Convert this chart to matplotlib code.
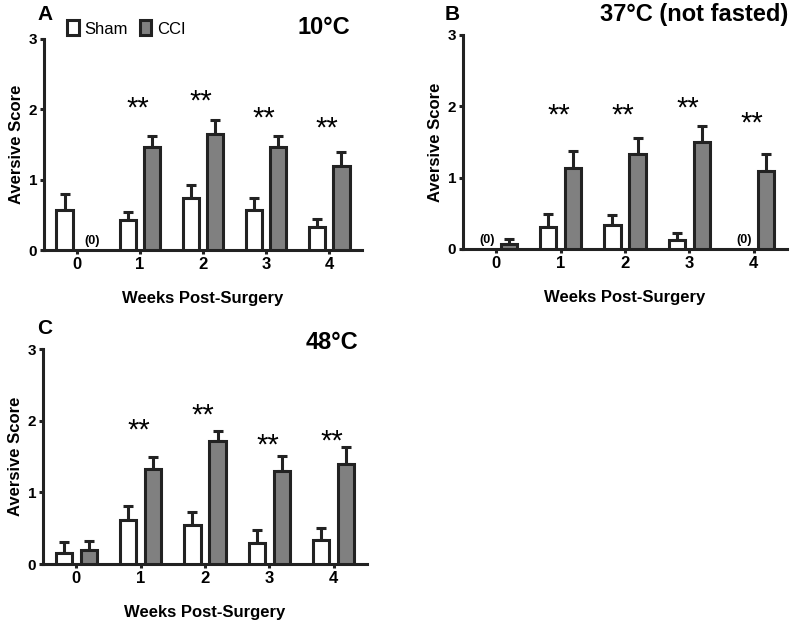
import numpy as np
import matplotlib.pyplot as plt
from matplotlib.patches import Patch

plt.rcParams['font.family'] = ['Liberation Sans', 'DejaVu Sans']

weeks = [0, 1, 2, 3, 4]

# Panel A - 10°C
a_sham = [0.57, 0.43, 0.74, 0.57, 0.33]
a_sham_err = [0.22, 0.11, 0.19, 0.17, 0.11]
a_cci = [0.0, 1.47, 1.65, 1.46, 1.20]
a_cci_err = [0.0, 0.15, 0.20, 0.16, 0.20]
a_stars = [None, 2.09, 2.19, 1.95, 1.81]

# Panel B - 37°C (not fasted)
b_sham = [0.0, 0.31, 0.34, 0.13, 0.0]
b_sham_err = [0.0, 0.18, 0.14, 0.10, 0.0]
b_cci = [0.07, 1.14, 1.33, 1.50, 1.10]
b_cci_err = [0.07, 0.23, 0.22, 0.23, 0.23]
b_stars = [None, 1.95, 1.95, 2.05, 1.84]

# Panel C - 48°C
c_sham = [0.16, 0.62, 0.54, 0.30, 0.34]
c_sham_err = [0.15, 0.19, 0.18, 0.17, 0.16]
c_cci = [0.20, 1.33, 1.71, 1.30, 1.40]
c_cci_err = [0.12, 0.17, 0.14, 0.21, 0.23]
c_stars = [None, 1.94, 2.15, 1.74, 1.79]

EDGE = '#222222'
GREY = '#808080'
off = 0.195
w = 0.255


def panel(rect, sham, sham_err, cci, cci_err, stars, zeros):
    ax = fig.add_axes(rect)
    x = np.array(weeks, dtype=float)
    for xs, vals, errs, col in [(x - off, sham, sham_err, 'white'),
                                (x + off, cci, cci_err, GREY)]:
        for xi, v, e in zip(xs, vals, errs):
            if v <= 0:
                continue
            ax.errorbar(xi, v, yerr=[[0], [e]], fmt='none', ecolor=EDGE,
                        elinewidth=2.2, capsize=3.5, capthick=2.2, zorder=2)
            ax.bar(xi, v, width=w, color=col, edgecolor=EDGE, linewidth=2.2,
                   zorder=3)
    # significance marks, centred on the glyphs
    for xi, s in zip(x, stars):
        if s is not None:
            ax.annotate('**', (xi - 0.03, s), xytext=(0, -10),
                        textcoords='offset points', ha='center',
                        va='baseline', fontsize=21)
    for xi, dx in zeros:
        ax.text(xi + dx, 0.13, '(0)', ha='center', va='center',
                fontsize=9, fontweight='bold')
    ax.set_xlim(-0.52, 4.52)
    ax.set_ylim(0, 3)
    ax.set_xticks(weeks)
    ax.set_yticks([0, 1, 2, 3])
    for s in ['top', 'right']:
        ax.spines[s].set_visible(False)
    for s in ['left', 'bottom']:
        ax.spines[s].set_linewidth(2.2)
        ax.spines[s].set_color(EDGE)
    ax.tick_params(axis='both', length=3, width=2.2, color=EDGE, pad=2,
                   labelsize=11)
    ax.tick_params(axis='x', labelsize=12)
    for lab in ax.get_xticklabels() + ax.get_yticklabels():
        lab.set_fontweight('bold')
    ax.set_xlabel('Weeks Post-Surgery', fontsize=12, fontweight='bold',
                  labelpad=14)
    ax.set_ylabel('Aversive Score', fontsize=12, fontweight='bold',
                  labelpad=3)
    return ax


fig = plt.figure(figsize=(8, 6.24), dpi=100)
W, H = 800, 624


def rect(l, r, t, b):
    return [l / W, 1 - b / H, (r - l) / W, (b - t) / H]


axA = panel(rect(44, 362, 39, 250), a_sham, a_sham_err, a_cci, a_cci_err,
            a_stars, [(0, 0.25)])
axB = panel(rect(463, 787, 35, 249), b_sham, b_sham_err, b_cci, b_cci_err,
            b_stars, [(0, -0.14), (4, -0.14)])
axC = panel(rect(43, 367, 349, 564), c_sham, c_sham_err, c_cci, c_cci_err,
            c_stars, [])

# titles and panel letters
fig.text(350 / W, 1 - 28 / H, '10°C', ha='right', va='center', fontsize=17,
         fontweight='bold')
fig.text(788 / W, 1 - 15 / H, '37°C (not fasted)', ha='right', va='center',
         fontsize=17, fontweight='bold')
fig.text(358 / W, 1 - 342 / H, '48°C', ha='right', va='center', fontsize=17,
         fontweight='bold')
fig.text(37 / W, 1 - 15 / H, 'A', ha='left', va='center', fontsize=15,
         fontweight='bold')
fig.text(445 / W, 1 - 15 / H, 'B', ha='left', va='center', fontsize=15,
         fontweight='bold')
fig.text(37 / W, 1 - 328 / H, 'C', ha='left', va='center', fontsize=15,
         fontweight='bold')

handles = [Patch(facecolor='white', edgecolor=EDGE, linewidth=2.2),
           Patch(facecolor=GREY, edgecolor=EDGE, linewidth=2.2)]
fig.legend(handles, ['Sham', 'CCI'], loc='center left',
           bbox_to_anchor=(67 / W, 1 - 28.5 / H), ncol=2, frameon=False,
           fontsize=12, handlelength=0.7, handleheight=1.0,
           handletextpad=0.35, columnspacing=0.7, borderpad=0, borderaxespad=0)

fig.savefig('out.png', dpi=100)
